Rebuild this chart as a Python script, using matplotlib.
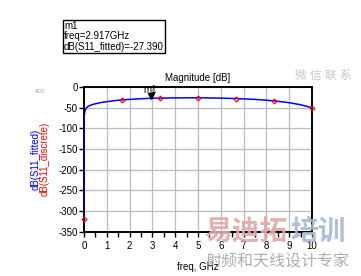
import matplotlib
matplotlib.use("Agg")
import matplotlib.pyplot as plt
import numpy as np

plt.rcParams['font.family'] = ['Liberation Sans', 'Noto Sans CJK SC', 'DejaVu Sans']

# Data
fit_freq = [0.0, 0.005, 0.02, 0.05, 0.1, 0.2, 0.4, 0.7, 1.0, 1.5, 2.0, 2.5, 2.917,
            3.5, 4.0, 5.0, 6.0, 6.67, 7.5, 8.33, 9.0, 9.5, 10.0]
fit_db = [-320, -75, -64, -57, -51, -46, -42, -38, -35.5, -32, -30, -28.5, -27.39,
          -26.8, -26.4, -26, -27, -28, -30, -33.5, -38, -43, -50]
disc_freq = [0.0, 1.667, 3.333, 5.0, 6.667, 8.333, 10.0]
disc_db = [-320, -31, -27.5, -26, -28, -33, -51]
marker_freq = 2.917
marker_db = -27.39
xticks = list(range(0, 11))
yticks = list(range(0, -351, -50))

fig = plt.figure(figsize=(3.61, 2.76), dpi=100)
ax = fig.add_axes([84/361, 1-231.5/276, (312-84)/361, (231.5-87)/276])

ax.plot(fit_freq, fit_db, color='#0000ff', lw=1.1, zorder=3)
ax.plot(disc_freq, disc_db, linestyle='none', marker='D', markersize=2.5,
        markerfacecolor='none', markeredgecolor='#ff0000', markeredgewidth=0.8,
        clip_on=False, zorder=4)
ax.plot([marker_freq], [marker_db + 5], marker='v', color='black', markersize=5,
        clip_on=False, zorder=5)
ax.text(marker_freq, marker_db + 9, 'm1', ha='center', va='bottom', fontsize=7, zorder=6)

ax.set_xlim(0, 10)
ax.set_ylim(-350, 0)
ax.set_xticks(xticks)
ax.set_xticks(np.arange(0, 10.01, 0.5), minor=True)
ax.set_yticks(yticks)
ax.set_yticklabels([str(v) for v in yticks])
ax.grid(True, which='major', color='#bcbcbc', lw=0.9)
ax.tick_params(axis='both', which='major', labelsize=7, length=3.5, width=1, direction='out', pad=1)
ax.tick_params(axis='x', which='minor', length=3.5, width=1, direction='out')
ax.tick_params(axis='x', pad=3)
for s in ax.spines.values():
    s.set_linewidth(1.4)
    s.set_color('black')

ax.set_title('Magnitude [dB]', fontsize=7, pad=4)
ax.set_xlabel('freq, GHz', fontsize=7, labelpad=8)

fig.text(36/361, 1-159/276, 'dB(S11_fitted)', color='#0000ff', rotation=90,
         ha='center', va='center', fontsize=7)
fig.text(45/361, 1-159/276, 'dB(S11_discrete)', color='#ff0000', rotation=90,
         ha='center', va='center', fontsize=7)
fig.text(40/361, 1-92/276, 'ADS', color='#a0a0a0', fontsize=3.5, ha='center', va='center')

# marker readout box
fig.text(64/361, 1-21/276, 'm1\nfreq=2.917GHz\ndB(S11_fitted)=-27.390', fontsize=7,
         ha='left', va='top', linespacing=1.05,
         bbox=dict(boxstyle='square,pad=0.15', fc='white', ec='black', lw=1))

# watermark
fig.text(204/361, 1-233/276, '易迪拓', color='#e0a8a8', fontsize=20, fontweight='bold',
         ha='left', va='center', alpha=0.9)
fig.text(290/361, 1-233/276, '培训', color='#a8b8d0', fontsize=20, fontweight='bold',
         ha='left', va='center', alpha=0.9)
fig.text(277/361, 1-262/276, '射频和天线设计专家', color='#9a9a9a', fontsize=11.5,
         ha='center', va='center', alpha=0.8)
fig.text(323/361, 1-76/276, '微 信 联 系', color='#c8c8c8', fontsize=8.5,
         ha='center', va='center')

fig.savefig('out.png', dpi=100)
